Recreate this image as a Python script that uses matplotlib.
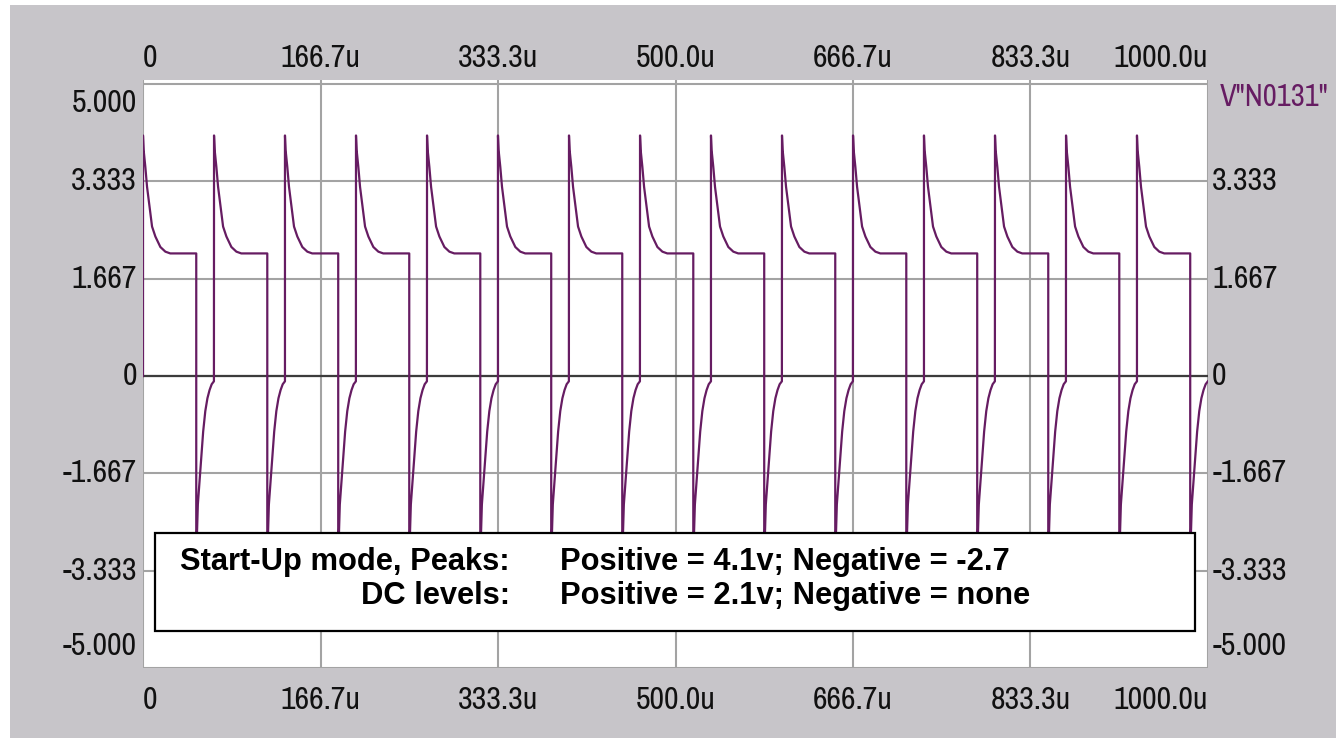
import matplotlib
matplotlib.use("Agg")
import matplotlib.pyplot as plt
from matplotlib import font_manager
from matplotlib.patches import Rectangle

# time axis (us) and voltage axis ticks
x_ticks = [0, 166.7, 333.3, 500.0, 666.7, 833.3, 1000.0]
x_labels = ["0", "166.7u", "333.3u", "500.0u", "666.7u", "833.3u", "1000.0u"]
y_ticks = [5.0, 3.333, 1.667, 0.0, -1.667, -3.333, -5.0]
y_labels = ["5.000", "3.333", "1.667", "0", "-1.667", "-3.333", "-5.000"]
y_labels_right = ["", "3.333", "1.667", "0", "-1.667", "-3.333", "-5.000"]

# rising edges (us) of each cycle
edge_times = [0.0, 66.7, 133.3, 200.0, 266.7, 333.3, 400.0, 466.7,
              533.3, 600.0, 666.7, 733.3, 800.0, 866.7, 933.3]
# positive part of one cycle: offset after rising edge (us), volts
pos_t = [0.0, 0.6, 2.2, 3.8, 5.4, 6.9, 8.5, 11.6, 16.3, 21.0, 25.6, 50.0]
pos_v = [4.12, 3.87, 3.58, 3.24, 3.01, 2.79, 2.56, 2.39, 2.21, 2.13, 2.10, 2.10]
# negative part: offset after the falling edge (us), volts
neg_t = [0.0, 0.6, 1.5, 3.5, 5.0, 6.5, 8.5, 10.5, 12.5, 14.5, 16.6]
neg_v = [-2.75, -2.75, -2.2, -1.7, -1.3, -0.95, -0.6, -0.38, -0.24, -0.14, -0.09]
fall_offset = 50.0

trace_name = 'V"N0131"'
box_left = ["Start-Up mode, Peaks:", "DC levels:"]
box_right = ["Positive = 4.1v; Negative = -2.7", "Positive = 2.1v; Negative = none"]

# build the trace
t = [0.0]
v = [0.0]
for e in edge_times:
    for dt, val in zip(pos_t, pos_v):
        t.append(e + dt)
        v.append(val)
    for dt, val in zip(neg_t, neg_v):
        t.append(e + fall_offset + dt)
        v.append(val)

# look for a narrow / condensed sans face for the axis labels
narrow_fp = None
for key in ["narrow", "condensed"]:
    for f in font_manager.fontManager.ttflist:
        if key in (f.name + " " + f.fname).lower() and "bold" not in f.fname.lower() \
                and "italic" not in f.fname.lower() and "oblique" not in f.fname.lower() \
                and "mono" not in f.fname.lower() and "serif" not in f.name.lower():
            narrow_fp = f.fname
            break
    if narrow_fp:
        break

if narrow_fp:
    lab_font = dict(fontproperties=font_manager.FontProperties(fname=narrow_fp, size=23))
    name_font = dict(fontproperties=font_manager.FontProperties(fname=narrow_fp, size=22))
else:
    lab_font = dict(fontsize=19, family=["Liberation Sans", "DejaVu Sans"])
    name_font = dict(fontsize=18, family=["Liberation Sans", "DejaVu Sans"])

gray = "#c7c5c9"
purple = "#661c62"

fig = plt.figure(figsize=(13.36, 7.38), dpi=100, facecolor="white")
fig.patches.append(Rectangle((10 / 1336, 0), 1, 1 - 5 / 738, transform=fig.transFigure,
                             facecolor=gray, edgecolor="none", zorder=-10))

ax = fig.add_axes([143 / 1336, 70 / 738, 1065 / 1336, 588 / 738])
ax.set_facecolor("white")
ax.set_xlim(0, 1000)
ax.set_ylim(-5.0, 5.07)
for s in ax.spines.values():
    s.set_visible(False)

ax.set_xticks(x_ticks)
ax.set_yticks(y_ticks)
ax.tick_params(length=0, labelbottom=False, labelleft=False)
ax.grid(True, color="#a3a3a3", lw=1.5, zorder=1)
ax.axhline(0, color="#3c3c3c", lw=1.6, zorder=2)

ax.plot(t, v, color=purple, lw=1.6, zorder=3)

# x labels top and bottom
for i, (xv, lab) in enumerate(zip(x_ticks, x_labels)):
    ha = "left" if i == 0 else ("right" if i == len(x_ticks) - 1 else "center")
    for ypos, dy in [(1, 16.0), (0, -23.0)]:
        ax.annotate(lab, xy=(xv, ypos), xycoords=("data", "axes fraction"),
                    xytext=(0, dy), textcoords="offset points", ha=ha, va="center",
                    color="#111111", **lab_font)

# y labels left and right
for i, (yv, lab, labr) in enumerate(zip(y_ticks, y_labels, y_labels_right)):
    dy = 0.0
    if i == 0:
        dy = -13.7
    elif i == len(y_ticks) - 1:
        dy = 15.5
    ax.annotate(lab, xy=(0, yv), xycoords=("axes fraction", "data"),
                xytext=(-4.3, dy), textcoords="offset points", ha="right", va="center",
                color="#111111", **lab_font)
    if labr:
        ax.annotate(labr, xy=(1, yv), xycoords=("axes fraction", "data"),
                    xytext=(3.0, dy), textcoords="offset points", ha="left", va="center",
                    color="#111111", **lab_font)

fig.text(1220 / 1336, 1 - 97 / 738, trace_name, ha="left", va="center",
         color=purple, **name_font)

# annotation box
ax.add_patch(Rectangle((0.0113, 0.0629), 0.9765, 0.1667, transform=ax.transAxes,
                       facecolor="white", edgecolor="black", lw=1.6, zorder=5))
for lab, val, yy in zip(box_left, box_right, [0.180, 0.1224]):
    ax.text(0.3447, yy, lab, transform=ax.transAxes, ha="right", va="center",
            fontsize=22.2, fontweight="bold", family=["Liberation Sans", "DejaVu Sans"], zorder=6)
    ax.text(0.3915, yy, val, transform=ax.transAxes, ha="left", va="center",
            fontsize=22.2, fontweight="bold", family=["Liberation Sans", "DejaVu Sans"], zorder=6)

fig.savefig("out.png", dpi=100, facecolor="white")
